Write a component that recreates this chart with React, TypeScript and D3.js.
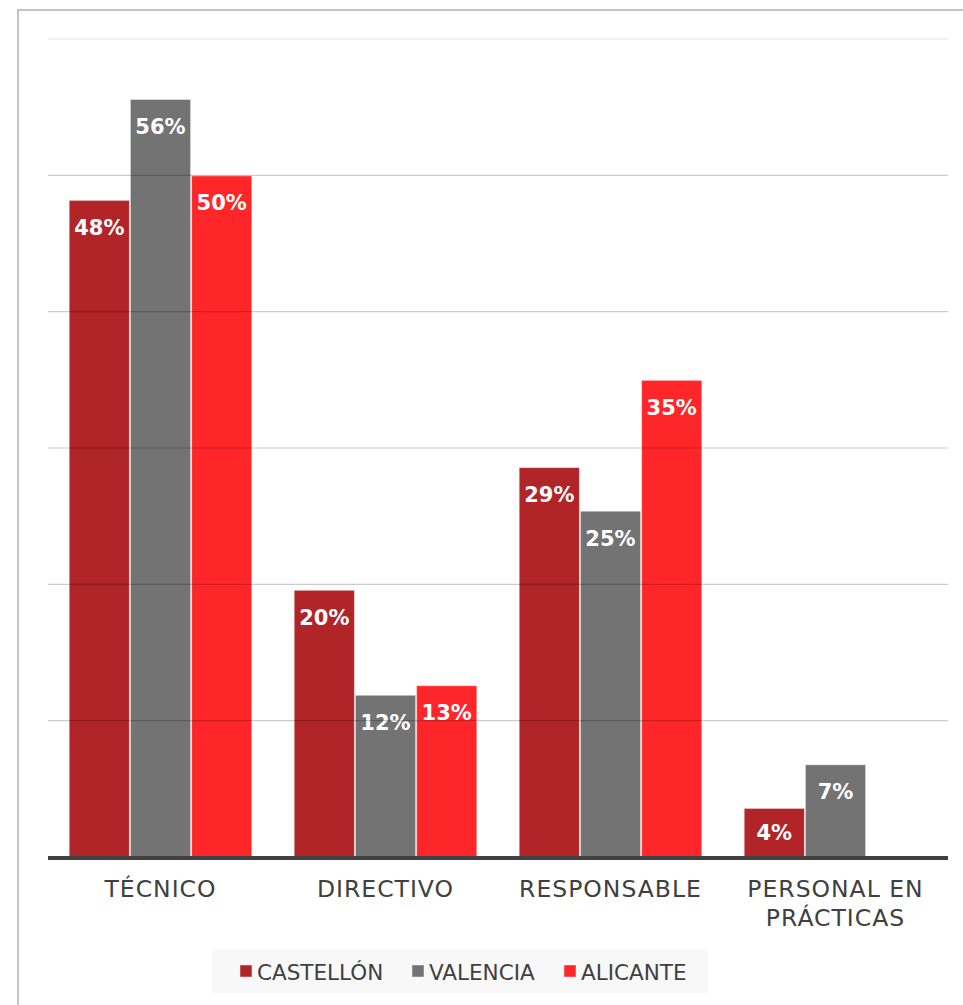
import React from "react";
import * as d3 from "d3";

const categories = ["TÉCNICO", "DIRECTIVO", "RESPONSABLE", "PERSONAL EN PRÁCTICAS"];
const categoryLines = [["TÉCNICO"], ["DIRECTIVO"], ["RESPONSABLE"], ["PERSONAL EN", "PRÁCTICAS"]];
const seriesNames = ["CASTELLÓN", "VALENCIA", "ALICANTE"];
const castellon = [48.2, 19.6, 28.6, 3.6];
const valencia = [55.6, 11.9, 25.4, 6.8];
const alicante: (number | null)[] = [50.0, 12.6, 35.0, null];
const seriesColors = ["#B12427", "#737373", "#FF2629"];
const yTicks = [0, 10, 20, 30, 40, 50, 60];

const W = 963;
const H = 1005;
const FONT = "'DejaVu Sans', sans-serif";

export default function App() {
  const seriesValues = [castellon, valencia, alicante];
  const x0 = d3.scaleBand<string>().domain(categories).range([48, 948]).padding(0);
  const x1 = d3
    .scaleBand<string>()
    .domain(seriesNames)
    .range([0, x0.bandwidth()])
    .paddingInner(0)
    .paddingOuter(0.338);
  const y = d3.scaleLinear().domain([0, 60]).range([857, 39]);

  const legendItems = [
    { x: 240, tx: 257 },
    { x: 412, tx: 429 },
    { x: 564, tx: 581 },
  ];

  return (
    <svg
      width={W}
      height={H}
      style={{ position: "absolute", left: 0, top: 0, background: "#fff" }}
    >
      {/* frame */}
      <line x1={18} y1={10} x2={W} y2={10} stroke="#c4c4c4" strokeWidth={2} />
      <line x1={18} y1={9} x2={18} y2={H} stroke="#c4c4c4" strokeWidth={2} />

      {/* bars */}
      {categories.map((c, ci) => (
        <g key={c} transform={`translate(${x0(c)},0)`}>
          {seriesNames.map((s, si) => {
            const v = seriesValues[si][ci];
            if (v == null) return null;
            const top = y(v);
            const base = y(0);
            const bx = x1(s)!;
            const bw = x1.bandwidth();
            const ty = Math.min(top + 35, (top + base) / 2 + 8);
            return (
              <g key={s}>
                <rect
                  x={bx + 0.5}
                  y={top + 0.5}
                  width={bw - 1}
                  height={base - top - 0.5}
                  fill={seriesColors[si]}
                  stroke="rgba(255,255,255,0.45)"
                  strokeWidth={1}
                />
                <text
                  x={bx + bw / 2}
                  y={ty}
                  textAnchor="middle"
                  fill="#fff"
                  fontFamily={FONT}
                  fontWeight="bold"
                  fontSize={21}
                >
                  {Math.round(v) + "%"}
                </text>
              </g>
            );
          })}
        </g>
      ))}

      {/* gridlines (drawn over bars, semi-transparent) */}
      {yTicks
        .filter((t) => t > 0)
        .map((t) => (
          <line
            key={t}
            x1={48}
            x2={948}
            y1={y(t)}
            y2={y(t)}
            stroke={t === 60 ? "rgba(0,0,0,0.1)" : "rgba(0,0,0,0.2)"}
            strokeWidth={1.2}
          />
        ))}

      {/* baseline */}
      <line x1={48} x2={948} y1={y(0) + 1} y2={y(0) + 1} stroke="#404040" strokeWidth={4} />

      {/* category labels */}
      {categories.map((c, ci) => (
        <text
          key={c}
          x={x0(c)! + x0.bandwidth() / 2}
          textAnchor="middle"
          fill="#404040"
          fontFamily={FONT}
          fontSize={23.5}
          letterSpacing={1}
        >
          {categoryLines[ci].map((l, li) => (
            <tspan key={li} x={x0(c)! + x0.bandwidth() / 2} y={897 + li * 29}>
              {l}
            </tspan>
          ))}
        </text>
      ))}

      {/* legend */}
      <rect x={212} y={949} width={496} height={44} fill="#f8f8f8" />
      {seriesNames.map((s, si) => (
        <g key={s}>
          <rect
            x={legendItems[si].x}
            y={965}
            width={12}
            height={12}
            fill={seriesColors[si]}
            stroke="rgba(255,255,255,0.45)"
          />
          <text
            x={legendItems[si].tx}
            y={980}
            fill="#404040"
            fontFamily={FONT}
            fontSize={21.5}
          >
            {s}
          </text>
        </g>
      ))}
    </svg>
  );
}
